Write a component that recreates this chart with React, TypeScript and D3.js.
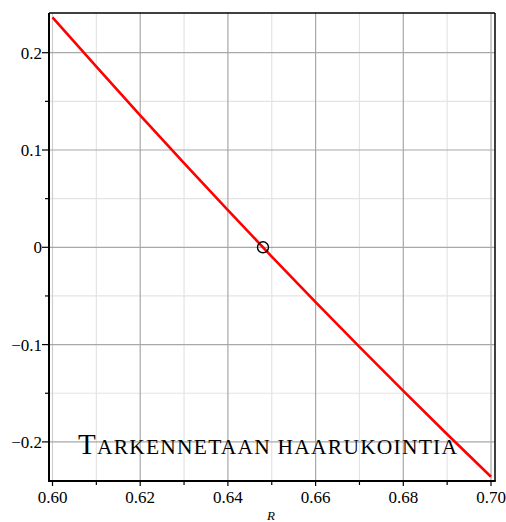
import React from 'react';
import * as d3 from 'd3';

// R values and the plotted function value
const rValues = [0.6, 0.61, 0.62, 0.63, 0.64, 0.65, 0.66, 0.67, 0.68, 0.69, 0.7];
const fValues = [0.2364, 0.1857, 0.1357, 0.0865, 0.0382, -0.0095, -0.0563, -0.1024, -0.1476, -0.1921, -0.2358];
// marked root
const rootPoint = [0.648, 0];

const xTicks = [0.6, 0.62, 0.64, 0.66, 0.68, 0.7];
const xMinor = [0.61, 0.63, 0.65, 0.67, 0.69];
const yTicks = [0.2, 0.1, 0, -0.1, -0.2];
const yMinor = [0.15, 0.05, -0.05, -0.15];

const title = 'Tarkennetaan haarukointia';
const xLabel = 'R';

const W = 506;
const H = 522;
const frame = { left: 49, right: 495, top: 13, bottom: 481 };
const serif = "'Liberation Serif', 'DejaVu Serif', serif";

const App = () => {
  const x = d3.scaleLinear().domain([0.6, 0.7]).range([52.5, 491]);
  const y = d3.scaleLinear().domain([0.2, -0.2]).range([52.7, 441.9]);

  const line = d3.line<number>()
    .x((_, i) => x(rValues[i]))
    .y((d) => y(d));

  const fmtY = (v: number) => (v === 0 ? '0' : d3.format('.1f')(v).replace('-', '\u2212'));
  const fmtX = d3.format('.2f');
  const txt = { fontFamily: serif };

  return (
    <svg width={W} height={H} style={{ position: 'absolute', left: 0, top: 0 }}>
      <rect width={W} height={H} fill="#fff" />
      {/* minor grid */}
      {xMinor.map((v) => (
        <line key={'xm' + v} x1={x(v)} x2={x(v)} y1={frame.top} y2={frame.bottom} stroke="#e4e4e4" strokeWidth={1.2} />
      ))}
      {yMinor.map((v) => (
        <line key={'ym' + v} x1={frame.left} x2={frame.right} y1={y(v)} y2={y(v)} stroke="#e4e4e4" strokeWidth={1.2} />
      ))}
      {/* major grid */}
      {xTicks.map((v, i) => (
        <line key={'xg' + v} x1={x(v)} x2={x(v)} y1={frame.top} y2={frame.bottom}
          stroke={i === 0 ? '#cfcfcf' : '#a8a8a8'} strokeWidth={1.2} />
      ))}
      {yTicks.map((v) => (
        <line key={'yg' + v} x1={frame.left} x2={frame.right} y1={y(v)} y2={y(v)} stroke="#a8a8a8" strokeWidth={1.2} />
      ))}

      {/* frame */}
      <line x1={frame.left} x2={frame.right} y1={frame.top} y2={frame.top} stroke="#000" strokeWidth={1.5} />
      <line x1={frame.right} x2={frame.right} y1={frame.top} y2={frame.bottom} stroke="#000" strokeWidth={1.5} />
      <line x1={frame.left} x2={frame.left} y1={frame.top} y2={frame.bottom + 1} stroke="#000" strokeWidth={2} />
      <line x1={frame.left - 1} x2={frame.right + 0.75} y1={frame.bottom} y2={frame.bottom} stroke="#000" strokeWidth={2} />

      {/* ticks */}
      {xTicks.map((v) => (
        <g key={'xt' + v}>
          <line x1={x(v)} x2={x(v)} y1={frame.bottom} y2={frame.bottom + 5} stroke="#000" strokeWidth={1.2} />
          <text x={x(v)} y={503} textAnchor="middle" fontSize={17} style={txt}>{fmtX(v)}</text>
        </g>
      ))}
      {xMinor.map((v) => (
        <line key={'xmt' + v} x1={x(v)} x2={x(v)} y1={frame.bottom} y2={frame.bottom + 4} stroke="#000" strokeWidth={1.2} />
      ))}
      {yTicks.map((v) => (
        <g key={'yt' + v}>
          <line x1={frame.left - 7} x2={frame.left} y1={y(v)} y2={y(v)} stroke="#000" strokeWidth={1.2} />
          <text x={42} y={y(v) + 6} textAnchor="end" fontSize={17} style={txt}>{fmtY(v)}</text>
        </g>
      ))}
      {yMinor.map((v) => (
        <line key={'ymt' + v} x1={frame.left - 4} x2={frame.left} y1={y(v)} y2={y(v)} stroke="#000" strokeWidth={1.2} />
      ))}

      {/* curve */}
      <path d={line(fValues) ?? ''} fill="none" stroke="#ff0000" strokeWidth={2.6} />
      <circle cx={x(rootPoint[0])} cy={y(rootPoint[1])} r={5.5} fill="none" stroke="#000" strokeWidth={1.4} />

      {/* title in small caps */}
      <text x={78} y={454} textLength={379} lengthAdjust="spacing" style={txt} fill="#000">
        <tspan fontSize={29}>{title.charAt(0).toUpperCase()}</tspan>
        <tspan fontSize={21.5}>{title.slice(1).toUpperCase()}</tspan>
      </text>
      <text x={271} y={520} textAnchor="middle" fontSize={13} fontStyle="italic" style={txt}>{xLabel}</text>
    </svg>
  );
};

export default App;
